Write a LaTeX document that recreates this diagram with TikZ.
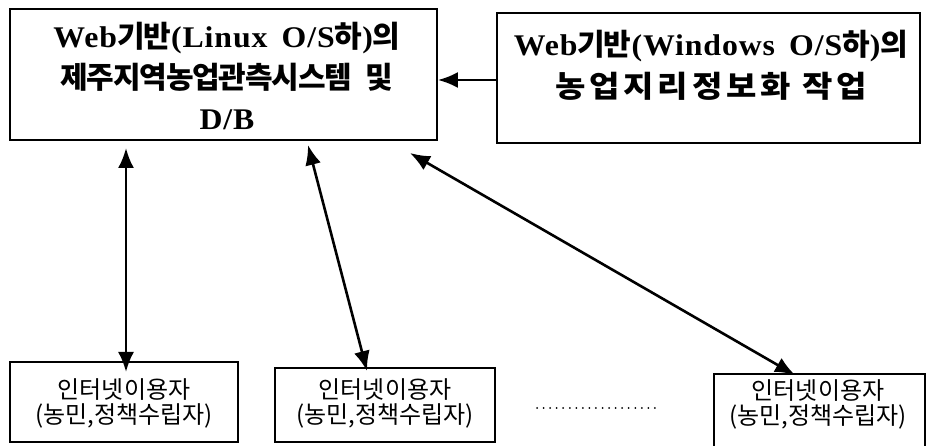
\documentclass[tikz,border=0pt]{standalone}
\usepackage{fontspec}
\setmainfont{Liberation Serif}
\newfontfamily\lat[FakeStretch=1.06,LetterSpace=3,WordSpace=1.6]{Liberation Serif}
\newfontfamily\kr[LetterSpace=-4]{Noto Sans CJK KR}
\newfontfamily\krw[FakeStretch=1.1,LetterSpace=13]{Noto Sans CJK KR}
\newfontfamily\krn{Noto Sans CJK KR}
\newcommand\kor[1]{{\kr #1}}
\newcommand\korw[1]{{\krw #1}}
\usetikzlibrary{arrows.meta,calc}
\begin{document}
\begin{tikzpicture}[x=1pt,y=-1pt,
  box/.style={draw, line width=1.8pt, inner sep=0pt},
  toptext/.style={align=center, inner sep=0pt, font=\lat\bfseries\fontsize{30}{41}\selectfont},
  usertext/.style={align=center, inner sep=0pt, font=\krn\fontsize{24}{25}\selectfont},
  conn/.style={line width=2.6pt, -{Latex[length=20pt,width=16pt]}},
  dconn/.style={line width=2.6pt, {Latex[length=20pt,width=16pt]}-{Latex[length=20pt,width=16pt]}}]
\useasboundingbox (0,0) rectangle (927,446);
\clip (0,0) rectangle (927,446);
% top boxes
\node[box, minimum width=427pt, minimum height=131pt] (A) at (223.5,74.5) {};
\node[toptext] (Atext) at (227,76) {Web\kor{기반}(Linux O/S\kor{하})\kor{의}\\ \kor{제주지역농업관측시스템}\hspace{14pt}\kor{및}\\ D/B};
\node[box, minimum width=423pt, minimum height=130pt] (B) at (708.5,78) {};
\node[toptext, font=\lat\bfseries\fontsize{30}{42}\selectfont] (Btext) at (711,65) {Web\kor{기반}(Windows O/S\kor{하})\kor{의}\\ \korw{농업지리정보화 작업}};
% user boxes
\node[box, minimum width=228pt, minimum height=80pt] (U1) at (124,402) {};
\node[usertext] (U1text) at (124,403) {인터넷이용자\\(농민,정책수립자)};
\node[box, minimum width=220pt, minimum height=74pt] (U2) at (385,405) {};
\node[usertext] (U2text) at (385,403) {인터넷이용자\\(농민,정책수립자)};
\node[box, anchor=north west, minimum width=211pt, minimum height=90pt] (U3) at (713,373) {};
\node[usertext] (U3text) at (818,404) {인터넷이용자\\(농민,정책수립자)};
% connectors
\coordinate (hy) at (0,80);
\draw[conn] (B.west |- hy) -- (A.east |- hy);
\coordinate (a1s) at (126,148);
\coordinate (a1e) at (126,372);
\coordinate (a2s) at (308,145);
\coordinate (a2e) at (367,371);
\coordinate (a3s) at (410,153);
\coordinate (a3e) at (795,375);
\draw[dconn] (a1s) -- (a1e);
\draw[dconn] (a2s) -- (a2e);
\draw[dconn] (a3s) -- (a3e);
% dots
\coordinate (d1) at (537,408);
\coordinate (d2) at (655,408);
\draw[line width=2pt, line cap=round, dash pattern=on 0pt off 6.55pt] (d1) -- (d2);
\end{tikzpicture}
\end{document}
